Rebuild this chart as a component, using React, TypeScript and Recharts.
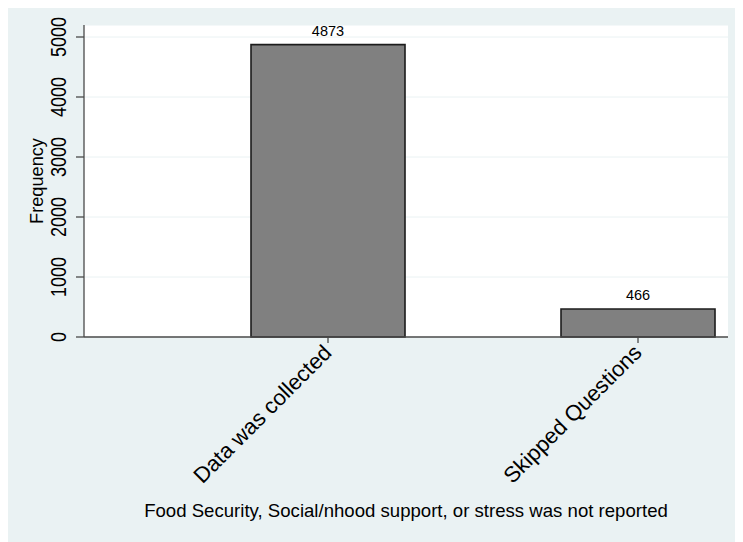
import { Bar, BarChart, CartesianGrid, LabelList, XAxis, YAxis, Label } from "recharts";

// Stata-style histogram: frequency of reporting status
const CATEGORIES = ["Data was collected", "Skipped Questions"];
const CATEGORY_POS = [1, 2];
const FREQUENCIES = [4873, 466];
const Y_TICKS = [0, 1000, 2000, 3000, 4000, 5000];

const data = CATEGORIES.map((label, i) => ({ x: CATEGORY_POS[i], freq: FREQUENCIES[i], label }));

const FONT = "'Liberation Sans', Arial, Helvetica, sans-serif";
const BG = "#EAF2F3";
const AXIS = "#4a4a4a";

function YTick({ x, y, payload }: any) {
  return (
    <text
      transform={`translate(${x - 10.5},${y}) rotate(-90) scale(1,1.2)`}
      textAnchor="middle"
      fontSize={18}
      fontFamily={FONT}
      fill="#000"
    >
      {payload.value}
    </text>
  );
}

function XTick({ x, y, payload }: any) {
  const idx = CATEGORY_POS.indexOf(payload.value);
  return (
    <text
      transform={`translate(${x + 5},${y + 9}) rotate(-45)`}
      textAnchor="end"
      fontSize={22}
      fontFamily={FONT}
      fill="#000"
    >
      {CATEGORIES[idx]}
    </text>
  );
}

export default function App() {
  return (
    <div style={{ width: 736, height: 536, background: BG, marginLeft: -1, marginTop: -2 }}>
      <BarChart
        width={736}
        height={536}
        data={data}
        margin={{ top: 19, right: 15, bottom: 0, left: 0 }}
      >
        <CartesianGrid vertical={false} stroke={BG} fill="#fff" />
        <XAxis
          dataKey="x"
          type="number"
          domain={[0.2129, 2.2903]}
          ticks={CATEGORY_POS}
          height={205}
          tick={<XTick />}
          tickSize={6}
          tickMargin={2}
          stroke={AXIS}
          strokeWidth={1.3}
          interval={0}
        >
          <Label
            value="Food Security, Social/nhood support, or stress was not reported"
            position="insideBottom"
            offset={25}
            style={{ fontSize: 18.6, fontFamily: FONT, fill: "#000" }}
          />
        </XAxis>
        <YAxis
          domain={[0, 5200]}
          ticks={Y_TICKS}
          width={77}
          tick={<YTick />}
          tickSize={8}
          tickMargin={0}
          stroke={AXIS}
          strokeWidth={1.3}
          interval={0}
        >
          <Label
            content={() => (
              <text
                x={36}
                y={175}
                transform="rotate(-90, 36, 175)"
                textAnchor="middle"
                fontSize={18.2}
                fontFamily={FONT}
                fill="#000"
              >
                Frequency
              </text>
            )}
          />
        </YAxis>
        <Bar
          dataKey="freq"
          fill="#808080"
          stroke="#1c1c1c"
          strokeWidth={1.6}
          barSize={154}
          isAnimationActive={false}
        >
          <LabelList
            dataKey="freq"
            position="top"
            offset={9}
            style={{ fontSize: 14.5, fontFamily: FONT, fill: "#000" }}
          />
        </Bar>
      </BarChart>
    </div>
  );
}
